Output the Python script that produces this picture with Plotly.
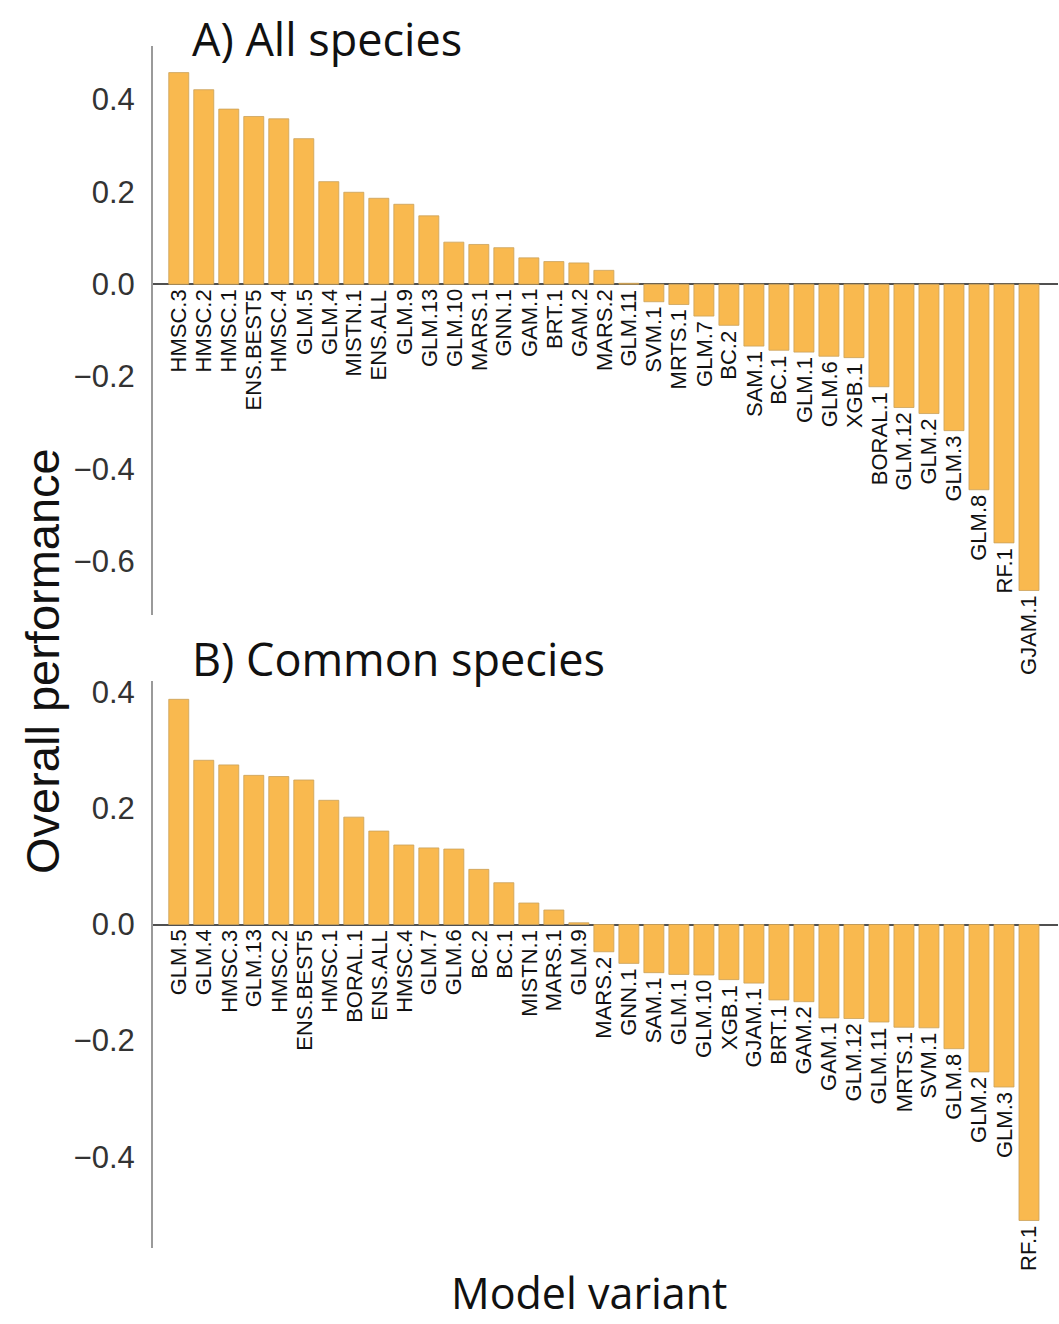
import plotly.graph_objects as go
from plotly.subplots import make_subplots

# ---- Data ----
top_models = ["HMSC.3", "HMSC.2", "HMSC.1", "ENS.BEST5", "HMSC.4", "GLM.5", "GLM.4", "MISTN.1",
              "ENS.ALL", "GLM.9", "GLM.13", "GLM.10", "MARS.1", "GNN.1", "GAM.1", "BRT.1", "GAM.2",
              "MARS.2", "GLM.11", "SVM.1", "MRTS.1", "GLM.7", "BC.2", "SAM.1", "BC.1", "GLM.1",
              "GLM.6", "XGB.1", "BORAL.1", "GLM.12", "GLM.2", "GLM.3", "GLM.8", "RF.1", "GJAM.1"]
top_values = [0.458, 0.421, 0.379, 0.363, 0.358, 0.315, 0.222, 0.199, 0.186, 0.173, 0.148, 0.091,
              0.086, 0.079, 0.057, 0.049, 0.046, 0.030, 0.002, -0.038, -0.044, -0.069, -0.089,
              -0.134, -0.143, -0.147, -0.156, -0.159, -0.222, -0.267, -0.280, -0.317, -0.445,
              -0.560, -0.663]

bottom_models = ["GLM.5", "GLM.4", "HMSC.3", "GLM.13", "HMSC.2", "ENS.BEST5", "HMSC.1", "BORAL.1",
                 "ENS.ALL", "HMSC.4", "GLM.7", "GLM.6", "BC.2", "BC.1", "MISTN.1", "MARS.1", "GLM.9",
                 "MARS.2", "GNN.1", "SAM.1", "GLM.1", "GLM.10", "XGB.1", "GJAM.1", "BRT.1", "GAM.2",
                 "GAM.1", "GLM.12", "GLM.11", "MRTS.1", "SVM.1", "GLM.8", "GLM.2", "GLM.3", "RF.1"]
bottom_values = [0.388, 0.283, 0.275, 0.257, 0.255, 0.249, 0.214, 0.185, 0.161, 0.137, 0.132, 0.130,
                 0.095, 0.072, 0.037, 0.025, 0.003, -0.047, -0.067, -0.083, -0.086, -0.087, -0.095,
                 -0.101, -0.130, -0.133, -0.161, -0.162, -0.168, -0.177, -0.178, -0.214, -0.254,
                 -0.280, -0.510]

top_ticks = [0.4, 0.2, 0.0, -0.2, -0.4, -0.6]
bottom_ticks = [0.4, 0.2, 0.0, -0.2, -0.4]

panel_titles = ["A) All species", "B) Common species"]
y_title = "Overall performance"
x_title = "Model variant"

# ---- Style ----
BAR = "#F9B94F"
BAR_EDGE = "#C9A15A"
W, H = 1059, 1324
ML, MR = 153, 1
PW = W - ML - MR


def px_x(px):
    return (px - ML) / PW


def px_y(py):
    return 1 - py / H


fig = make_subplots(rows=2, cols=1)

panels = [(top_models, top_values, top_ticks, 1), (bottom_models, bottom_values, bottom_ticks, 2)]
for models, vals, ticks, r in panels:
    fig.add_trace(go.Bar(x=models, y=vals, marker=dict(color=BAR, line=dict(color=BAR_EDGE, width=0.8)),
                         showlegend=False, hoverinfo="x+y"), row=r, col=1)
    xref = "x" if r == 1 else "x2"
    yref = "y" if r == 1 else "y2"
    for m, v in zip(models, vals):
        fig.add_annotation(x=m, y=min(v, 0), xref=xref, yref=yref, text=m, textangle=-90,
                           showarrow=False, xanchor="center", yanchor="top", yshift=-3,
                           font=dict(family="Liberation Sans, Arial", size=22, color="#111"))

top_dom = [1 - 612 / H, 1 - 40 / H]
bot_dom = [1 - 1248 / H, 1 - 678 / H]

axis_common = dict(showgrid=False, showline=True, linecolor="#9a9a9a", linewidth=2,
                   zeroline=True, zerolinecolor="#505050", zerolinewidth=1.5,
                   ticks="", tickformat=".1f", ticklabelstandoff=10,
                   tickfont=dict(family="Liberation Sans, Arial", size=31, color="#333"))

fig.update_layout(
    width=W, height=H,
    margin=dict(l=ML, r=MR, t=0, b=0),
    plot_bgcolor="white", paper_bgcolor="white",
    bargap=0.2,
    xaxis=dict(domain=[0, 1], range=[-1.03, 35.16], showticklabels=False, showgrid=False,
               showline=False, zeroline=False, ticks=""),
    xaxis2=dict(domain=[0, 1], range=[-1.03, 35.16], showticklabels=False, showgrid=False,
                showline=False, zeroline=False, ticks=""),
    yaxis=dict(domain=top_dom, range=[-0.7166, 0.516], tickvals=top_ticks, **axis_common),
    yaxis2=dict(domain=bot_dom, range=[-0.558, 0.4197], tickvals=bottom_ticks, **axis_common),
)

title_font = dict(family="Open Sans, Noto Sans", size=45, color="#111")
fig.add_annotation(x=px_x(190), y=px_y(0), xref="paper", yref="paper", text=panel_titles[0],
                   showarrow=False, xanchor="left", yanchor="top", font=title_font)
fig.add_annotation(x=px_x(190), y=px_y(655), xref="paper", yref="paper", text=panel_titles[1],
                   showarrow=False, xanchor="left", yanchor="middle", font=title_font)
fig.add_annotation(x=px_x(589), y=px_y(H), xref="paper", yref="paper", text=x_title,
                   showarrow=False, xanchor="center", yanchor="bottom",
                   font=dict(family="Open Sans, Noto Sans", size=43, color="#111"))
fig.add_annotation(x=px_x(42), y=px_y(658), xref="paper", yref="paper", text=y_title,
                   showarrow=False, xanchor="center", yanchor="middle", textangle=-90,
                   font=dict(family="Liberation Sans, Arial", size=47, color="#111"))

fig.write_html("out.html")
